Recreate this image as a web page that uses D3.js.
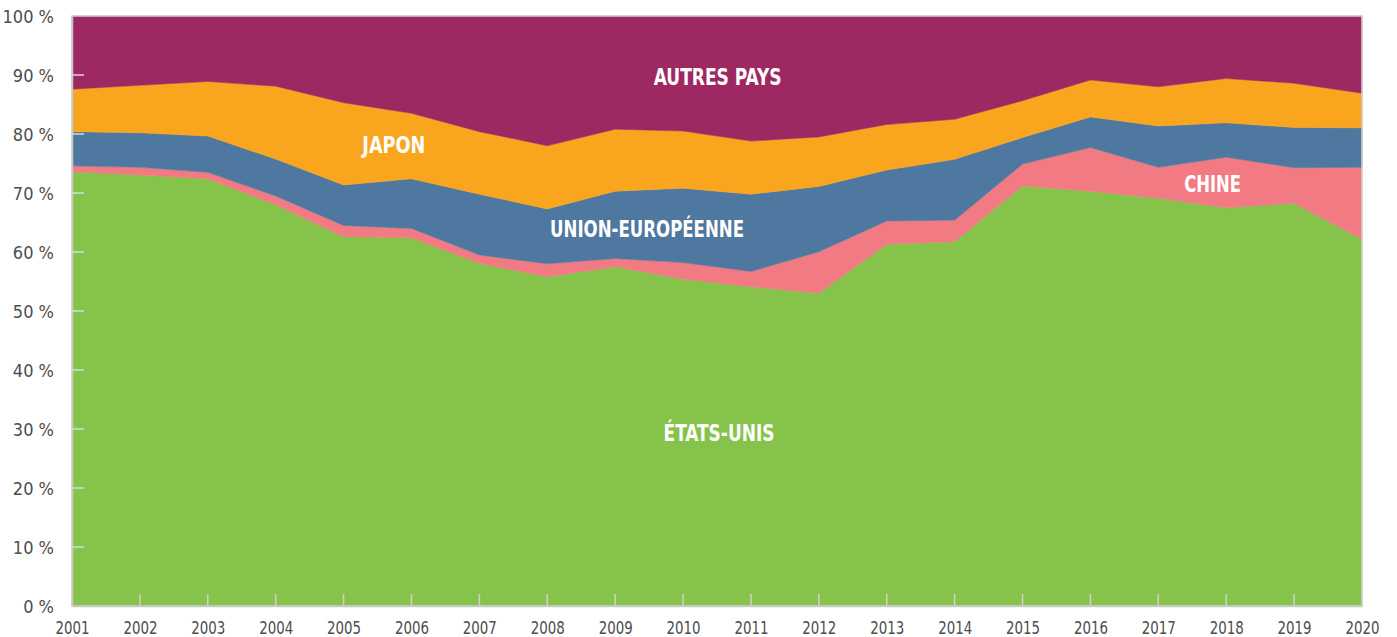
<!DOCTYPE html>
<html>
<head>
<meta charset="utf-8">
<script src="https://cdn.jsdelivr.net/npm/d3@7"></script>
<style>
  html, body { margin: 0; padding: 0; background: #fff; }
  svg { display: block; }
  .tick-label { font-family: "Liberation Sans Narrow", "DejaVu Sans Condensed", "Roboto Condensed", sans-serif; font-stretch: condensed; font-size: 18px; fill: #4d4d4d; }
  .year-label { font-size: 17px; }
  .area-label { font-family: "Liberation Sans Narrow", "DejaVu Sans Condensed", "Roboto Condensed", sans-serif; font-stretch: condensed; font-weight: bold; font-size: 23px; fill: #fff; }
</style>
</head>
<body>
<svg id="chart" width="1397" height="637"></svg>
<script>
// ---- data ----
const years = [2001,2002,2003,2004,2005,2006,2007,2008,2009,2010,2011,2012,2013,2014,2015,2016,2017,2018,2019,2020];
const etatsUnis       = [73.6,73.05,72.4,68.0,62.6,62.4,58.1,55.8,57.5,55.4,54.1,53.0,61.3,61.75,71.2,70.3,69.1,67.5,68.25,62.2];
const chine           = [1.0,1.3,1.1,1.5,1.9,1.6,1.4,2.2,1.4,2.8,2.6,7.05,3.95,3.65,3.7,7.4,5.25,8.55,6.05,12.15];
const unionEuropeenne = [5.8,5.85,6.15,6.25,6.85,8.4,10.3,9.3,11.4,12.6,13.1,11.05,8.65,10.3,4.5,5.2,7.0,5.85,6.8,6.7];
const japon           = [7.2,8.05,9.25,12.35,13.95,11.1,10.6,10.7,10.5,9.7,9.0,8.4,7.7,6.8,6.25,6.25,6.65,7.5,7.5,5.85];
const autresPays      = [12.4,11.75,11.1,11.9,14.7,16.5,19.6,22.0,19.2,19.5,21.2,20.5,18.4,17.5,14.35,10.85,12.0,10.6,11.4,13.1];

const seriesKeys   = ["etatsUnis","chine","unionEuropeenne","japon","autresPays"];
const seriesNames  = ["ÉTATS-UNIS","CHINE","UNION-EUROPÉENNE","JAPON","AUTRES PAYS"];
const seriesColors = ["#86c34a","#f27a82","#4e78a0","#f9a51e","#9e2862"];
const yTicks = [0,10,20,30,40,50,60,70,80,90,100];

// label placement (year position, percentage of baseline) and width
const labelYear  = [2010.53, 2017.8, 2009.47, 2005.74, 2010.51];
const labelValue = [28.0, 70.1, 62.6, 76.8, 88.3];
const labelWidth = [111, 57, 194, 63, 128];

// ---- build ----
const table = years.map((y, i) => ({
  year: y,
  etatsUnis: etatsUnis[i],
  chine: chine[i],
  unionEuropeenne: unionEuropeenne[i],
  japon: japon[i],
  autresPays: autresPays[i]
}));

const svg = d3.select("#chart");
const margin = {left: 72, right: 35, top: 16, bottom: 31};
const W = 1397, H = 637;
const x = d3.scaleLinear().domain([2001, 2020]).range([margin.left, W - margin.right]);
const y = d3.scaleLinear().domain([0, 100]).range([H - margin.bottom, margin.top]);

const stack = d3.stack().keys(seriesKeys);
const layers = stack(table);

const area = d3.area()
  .x(d => x(d.data.year))
  .y0(d => y(d[0]))
  .y1(d => y(d[1]))
  .curve(d3.curveLinear);

svg.append("g").selectAll("path")
  .data(layers)
  .join("path")
  .attr("d", area)
  .attr("fill", (d, i) => seriesColors[i])
  .attr("stroke", (d, i) => seriesColors[i])
  .attr("stroke-width", 0.5);

// frame
const gridColor = "#c8c8c8";
svg.append("rect")
  .attr("x", x(2001)).attr("y", y(100))
  .attr("width", x(2020) - x(2001)).attr("height", y(0) - y(100))
  .attr("fill", "none").attr("stroke", "#d0d0d0").attr("stroke-width", 1.5);

// y axis
const yAxis = d3.axisLeft(y).tickValues(yTicks).tickSize(0).tickPadding(18)
  .tickFormat(d => d + " %");
const gy = svg.append("g").attr("transform", `translate(${x(2001)},0)`).call(yAxis);
gy.select(".domain").attr("stroke", gridColor).attr("stroke-width", 1.5);
gy.selectAll("text").attr("class", "tick-label").attr("dy", "0.35em");
// inner ticks
svg.append("g").selectAll("line")
  .data(yTicks.filter(t => t > 0 && t < 100))
  .join("line")
  .attr("x1", x(2001)).attr("x2", x(2001) + 12)
  .attr("y1", d => y(d)).attr("y2", d => y(d))
  .attr("stroke", "#d8d8d8").attr("stroke-width", 1.5);

// x axis
const xAxis = d3.axisBottom(x).tickValues(years).tickSize(0).tickPadding(0)
  .tickFormat(d3.format("d"));
const gx = svg.append("g").attr("transform", `translate(0,${y(0)})`).call(xAxis);
gx.select(".domain").attr("stroke", gridColor).attr("stroke-width", 1.5);
gx.selectAll("text").attr("class", "tick-label year-label").attr("dy", null).attr("y", 28)
  .attr("textLength", 34).attr("lengthAdjust", "spacingAndGlyphs");
svg.append("g").selectAll("line")
  .data(years.slice(1, -1))
  .join("line")
  .attr("x1", d => x(d)).attr("x2", d => x(d))
  .attr("y1", y(0)).attr("y2", y(0) - 12)
  .attr("stroke", "#d0d0d0").attr("stroke-width", 1.5);

// area labels
svg.append("g").selectAll("text")
  .data(seriesNames)
  .join("text")
  .attr("class", "area-label")
  .attr("x", (d, i) => x(labelYear[i]))
  .attr("y", (d, i) => y(labelValue[i]))
  .attr("text-anchor", "middle")
  .attr("textLength", (d, i) => labelWidth[i])
  .attr("lengthAdjust", "spacingAndGlyphs")
  .text(d => d);
</script>
</body>
</html>
